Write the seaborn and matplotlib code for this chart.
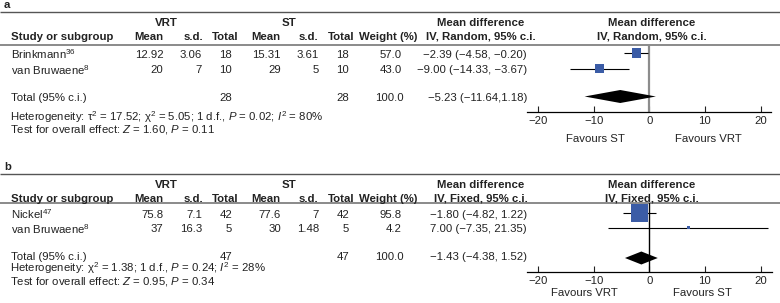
import numpy as np
import pandas as pd
import seaborn as sns
import matplotlib.pyplot as plt
from matplotlib.patches import Polygon

# ---- data: panel a (IV, Random) ----
a_study = ['Brinkmann$^{36}$', 'van Bruwaene$^{8}$']
a_vrt_mean = [12.92, 20]
a_vrt_sd = [3.06, 7]
a_vrt_n = [18, 10]
a_st_mean = [15.31, 29]
a_st_sd = [3.61, 5]
a_st_n = [18, 10]
a_weight = [57.0, 43.0]
a_md = [-2.39, -9.00]
a_lo = [-4.58, -14.33]
a_hi = [-0.20, -3.67]
a_total = dict(vrt_n=28, st_n=28, weight=100.0, md=-5.23, lo=-11.64, hi=1.18)
a_het = 'Heterogeneity: τ$^2$ = 17.52; χ$^2$ = 5.05; 1 d.f., $P$ = 0.02; $I^2$ = 80%'
a_test = 'Test for overall effect: $Z$ = 1.60, $P$ = 0.11'

# ---- data: panel b (IV, Fixed) ----
b_study = ['Nickel$^{47}$', 'van Bruwaene$^{8}$']
b_vrt_mean = [75.8, 37]
b_vrt_sd = [7.1, 16.3]
b_vrt_n = [42, 5]
b_st_mean = [77.6, 30]
b_st_sd = [7, 1.48]
b_st_n = [42, 5]
b_weight = [95.8, 4.2]
b_md = [-1.80, 7.00]
b_lo = [-4.82, -7.35]
b_hi = [1.22, 21.35]
b_total = dict(vrt_n=47, st_n=47, weight=100.0, md=-1.43, lo=-4.38, hi=1.52)
b_het = 'Heterogeneity: χ$^2$ = 1.38; 1 d.f., $P$ = 0.24; $I^2$ = 28%'
b_test = 'Test for overall effect: $Z$ = 0.95, $P$ = 0.34'

ticks = [-20, -10, 0, 10, 20]

sns.set_style('white')
plt.rcParams['font.family'] = ['Liberation Sans', 'DejaVu Sans']
plt.rcParams['mathtext.fontset'] = 'custom'
plt.rcParams['mathtext.rm'] = 'Liberation Sans'
plt.rcParams['mathtext.it'] = 'Liberation Sans:italic'
plt.rcParams['mathtext.bf'] = 'Liberation Sans:bold'

FS = 8.2
TXT = '#222222'
BLUE = '#3b5ca6'
W, H = 780, 303

fig = plt.figure(figsize=(7.8, 3.03), dpi=100)
bg = fig.add_axes([0, 0, 1, 1])
bg.set_xlim(0, W)
bg.set_ylim(H, 0)
bg.axis('off')


def fmt_md(m, lo, hi, sep=', '):
    return f'{m:.2f} ({lo:.2f}{sep}{hi:.2f})'.replace('-', '\u2212')


def t(x, y, s, ha='left', bold=False, **kw):
    bg.text(x, y, s, ha=ha, va='center', fontsize=FS, color=TXT,
            fontweight='bold' if bold else 'normal', **kw)


def panel(label, top, method, study, vm, vs, vn, sm, ss, sn, wt, md, lo, hi,
          tot, het, test, rows, tot_row, tot_text_y, het_y, axis_y, xlim,
          sizes, zero_color, zero_lw, fav, fav_y, tot_sep=', '):
    # rules and headers
    t(4, top - 7.5, label, bold=True)
    bg.hlines(top, 0, W, color='#555555', lw=1.0)
    hline = top + 33 if label == 'a' else top + 29
    bg.hlines(hline, 0, W, color='#8a8a8a', lw=1.4)
    h1, h2 = top + 11, top + 24.5
    t(166, h1, 'VRT', ha='center', bold=True)
    t(289, h1, 'ST', ha='center', bold=True)
    t(11, h2, 'Study or subgroup', bold=True)
    for x, s in [(149, 'Mean'), (193, 's.d.'), (225, 'Total'), (266, 'Mean'),
                 (308, 's.d.'), (341, 'Total'), (388, 'Weight (%)')]:
        t(x, h2, s, ha='center', bold=True)
    t(481, h1, 'Mean difference', ha='center', bold=True)
    t(481, h2, f'IV, {method}, 95% c.i.', ha='center', bold=True)
    t(652, h1, 'Mean difference', ha='center', bold=True)
    t(652, h2, f'IV, {method}, 95% c.i.', ha='center', bold=True)

    # table rows
    for i, ry in enumerate(rows):
        y = ry + 1.5
        t(11, y, study[i])
        t(163.5, y, f'{vm[i]:g}', ha='right')
        t(202, y, f'{vs[i]:g}', ha='right')
        t(232, y, f'{vn[i]}', ha='right')
        t(281, y, f'{sm[i]:g}', ha='right')
        t(319, y, f'{ss[i]:g}', ha='right')
        t(349, y, f'{sn[i]}', ha='right')
        t(402, y, f'{wt[i]:.1f}', ha='right')
        t(527, y, fmt_md(md[i], lo[i], hi[i]), ha='right')
    y = tot_text_y
    t(11, y, 'Total (95% c.i.)')
    t(232, y, f"{tot['vrt_n']}", ha='right')
    t(349, y, f"{tot['st_n']}", ha='right')
    t(404, y, f"{tot['weight']:.1f}", ha='right')
    t(527, y, fmt_md(tot['md'], tot['lo'], tot['hi'], tot_sep), ha='right')
    t(10, het_y, het)
    t(10, het_y + 13, test)

    # forest plot axes in pixel rows
    left, right = 527, 527 + (xlim[1] - xlim[0]) * 5.56
    ax = fig.add_axes([left / W, 1 - axis_y / H, (right - left) / W,
                       (axis_y - hline) / H])
    ax.set_xlim(*xlim)
    ax.set_ylim(axis_y, hline)
    ax.axvline(0, color=zero_color, lw=zero_lw, zorder=1)
    ax.hlines(rows, lo, hi, color='black', lw=0.8, zorder=2)
    df = pd.DataFrame({'md': md, 'row': rows})
    sns.scatterplot(data=df, x='md', y='row', marker='s', s=sizes,
                    color=BLUE, linewidth=0, ax=ax, zorder=3)
    hh = 6.5
    ax.add_patch(Polygon([(tot['lo'], tot_row), (tot['md'], tot_row - hh),
                          (tot['hi'], tot_row), (tot['md'], tot_row + hh)],
                         closed=True, color='black', lw=0, zorder=4))
    ax.set_xticks(ticks)
    ax.set_yticks([])
    ax.set_xlabel('')
    ax.set_ylabel('')
    ax.patch.set_alpha(0)
    for sp in ['top', 'left', 'right']:
        ax.spines[sp].set_visible(False)
    ax.spines['bottom'].set_color('black')
    ax.spines['bottom'].set_linewidth(0.9)
    ax.tick_params(axis='x', direction='in', length=4, width=0.8, pad=3,
                   labelsize=FS, colors=TXT, bottom=True)
    t(fav[0][0], fav_y, fav[0][1], ha='center')
    t(fav[1][0], fav_y, fav[1][1], ha='center')


panel('a', 12, 'Random', a_study, a_vrt_mean, a_vrt_sd, a_vrt_n, a_st_mean,
      a_st_sd, a_st_n, a_weight, a_md, a_lo, a_hi, a_total, a_het, a_test,
      rows=[53, 68.5], tot_row=96.5, tot_text_y=98, het_y=117, axis_y=112,
      xlim=(-22, 21.8), sizes=[42, 42], zero_color='#8c8c8c', zero_lw=1.6,
      fav=[(595, 'Favours ST'), (708, 'Favours VRT')], fav_y=139, tot_sep=',')

panel('b', 174, 'Fixed', b_study, b_vrt_mean, b_vrt_sd, b_vrt_n, b_st_mean,
      b_st_sd, b_st_n, b_weight, b_md, b_lo, b_hi, b_total, b_het, b_test,
      rows=[213, 227.5], tot_row=258, tot_text_y=256.5, het_y=268.5,
      axis_y=272, xlim=(-22, 22), sizes=[150, 5], zero_color='black',
      zero_lw=1.0, fav=[(584, 'Favours VRT'), (702, 'Favours ST')], fav_y=293)

fig.savefig('out.png', dpi=100)
